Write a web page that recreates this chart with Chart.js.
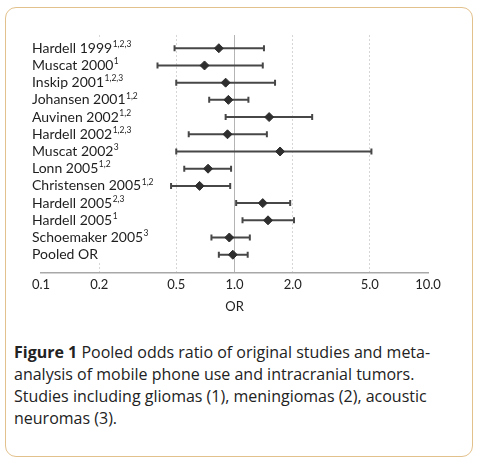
<!DOCTYPE html>
<html>
<head>
<meta charset="utf-8">
<script src="https://cdn.jsdelivr.net/npm/chart.js@4"></script>
<style>
  body { margin: 0; background: #fff; width: 482px; height: 465px; position: relative; overflow: hidden; }
  #frame {
    position: absolute; left: 5px; top: 7px; width: 468px; height: 450px;
    box-sizing: border-box; border: 1.5px solid #e3c18c; border-radius: 11px;
  }
  #chart { position: absolute; left: 0; top: 0; }
  #caption {
    position: absolute; left: 14px; top: 341px; width: 440px;
    font-family: "Open Sans", sans-serif; font-size: 16px; line-height: 22px; color: #222;
  }
</style>
</head>
<body>
<div id="frame"></div>
<canvas id="chart" width="482" height="320"></canvas>
<div id="caption"><b>Figure 1</b> Pooled odds ratio of original studies and meta-analysis of mobile phone use and intracranial tumors. Studies including gliomas (1), meningiomas (2), acoustic neuromas (3).</div>
<script>
// Forest plot data
var studies = ['Hardell 1999', 'Muscat 2000', 'Inskip 2001', 'Johansen 2001', 'Auvinen 2002',
    'Hardell 2002', 'Muscat 2002', 'Lonn 2005', 'Christensen 2005', 'Hardell 2005',
    'Hardell 2005', 'Schoemaker 2005', 'Pooled OR'];
var notes = ['1,2,3', '1', '1,2,3', '1,2', '1,2', '1,2,3', '3', '1,2', '1,2', '2,3', '1', '3', ''];
var oddsRatio = [0.83, 0.70, 0.90, 0.93, 1.51, 0.92, 1.72, 0.73, 0.66, 1.40, 1.49, 0.94, 0.98];
var lower = [0.49, 0.40, 0.50, 0.74, 0.90, 0.58, 0.50, 0.55, 0.47, 1.02, 1.10, 0.76, 0.83];
var upper = [1.42, 1.40, 1.62, 1.18, 2.52, 1.47, 5.10, 0.96, 0.95, 1.94, 2.03, 1.20, 1.17];
var xTicks = [0.1, 0.2, 0.5, 1, 2, 5, 10];

var barColor = '#474747';

var datasets = [{
    data: oddsRatio.map(function (v, i) { return { x: v, y: i }; }),
    pointStyle: 'rectRot',
    pointRadius: 4.5,
    backgroundColor: '#2e2e2e',
    borderColor: '#2e2e2e',
    borderWidth: 1
}];
for (var i = 0; i < studies.length; i++) {
    datasets.push({
        data: [{ x: lower[i], y: i }, { x: upper[i], y: i }],
        showLine: true,
        borderColor: barColor,
        borderWidth: 2,
        pointStyle: 'line',
        rotation: 90,
        pointRadius: 3,
        pointBorderWidth: 2,
        pointBorderColor: barColor
    });
}

// study names with superscript notes, drawn over the left of the plot
var rowLabels = {
    id: 'rowLabels',
    beforeDatasetsDraw: function (chart) {
        var ctx = chart.ctx, y = chart.scales.y;
        var top = y.getPixelForValue(0) - 9;
        var bottom = y.getPixelForValue(studies.length - 1) + 8;
        ctx.save();
        ctx.fillStyle = '#fff';
        ctx.fillRect(30, top, 120, bottom - top);
        ctx.restore();
    },
    afterDraw: function (chart) {
        var ctx = chart.ctx, y = chart.scales.y;
        ctx.save();
        ctx.fillStyle = '#1e1e1e';
        ctx.textBaseline = 'middle';
        for (var i = 0; i < studies.length; i++) {
            var py = y.getPixelForValue(i);
            ctx.font = '14px Lato';
            ctx.fillText(studies[i], 32, py);
            var w = ctx.measureText(studies[i]).width;
            ctx.font = '8.5px Lato';
            ctx.fillText(notes[i], 32 + w + 0.5, py - 4);
        }
        ctx.restore();
    }
};

Chart.defaults.color = '#222';
Chart.defaults.font.family = 'Lato';

new Chart(document.getElementById('chart'), {
    type: 'scatter',
    data: { datasets: datasets },
    options: {
        responsive: false,
        devicePixelRatio: 1,
        animation: false,
        layout: { padding: { left: 41, right: 54, top: 35, bottom: 5 } },
        plugins: { legend: { display: false }, tooltip: { enabled: false } },
        scales: {
            x: {
                type: 'logarithmic',
                min: 0.1,
                max: 10,
                afterBuildTicks: function (axis) {
                    axis.ticks = xTicks.map(function (v) { return { value: v }; });
                },
                ticks: {
                    padding: 4,
                    font: { size: 13 },
                    callback: function (v) { return Number(v).toFixed(1); }
                },
                grid: {
                    drawTicks: false,
                    lineWidth: 1,
                    color: function (c) {
                        if (!c.tick) return 'rgba(0,0,0,0)';
                        var v = c.tick.value;
                        if (v === 0.1 || v === 10) return 'rgba(0,0,0,0)';
                        return v === 1 ? '#b4b4b4' : '#d6d6d6';
                    }
                },
                border: {
                    color: '#a8a8a8',
                    width: 1.5,
                    dash: function (c) {
                        return c.tick && c.tick.value === 1 ? [] : [2, 2];
                    }
                },
                title: { display: true, text: 'OR', font: { size: 13 }, padding: { top: 3, bottom: 0 } }
            },
            y: {
                type: 'linear',
                display: false,
                reverse: true,
                min: -0.77,
                max: 13.05
            }
        }
    },
    plugins: [rowLabels]
});
</script>
</body>
</html>
